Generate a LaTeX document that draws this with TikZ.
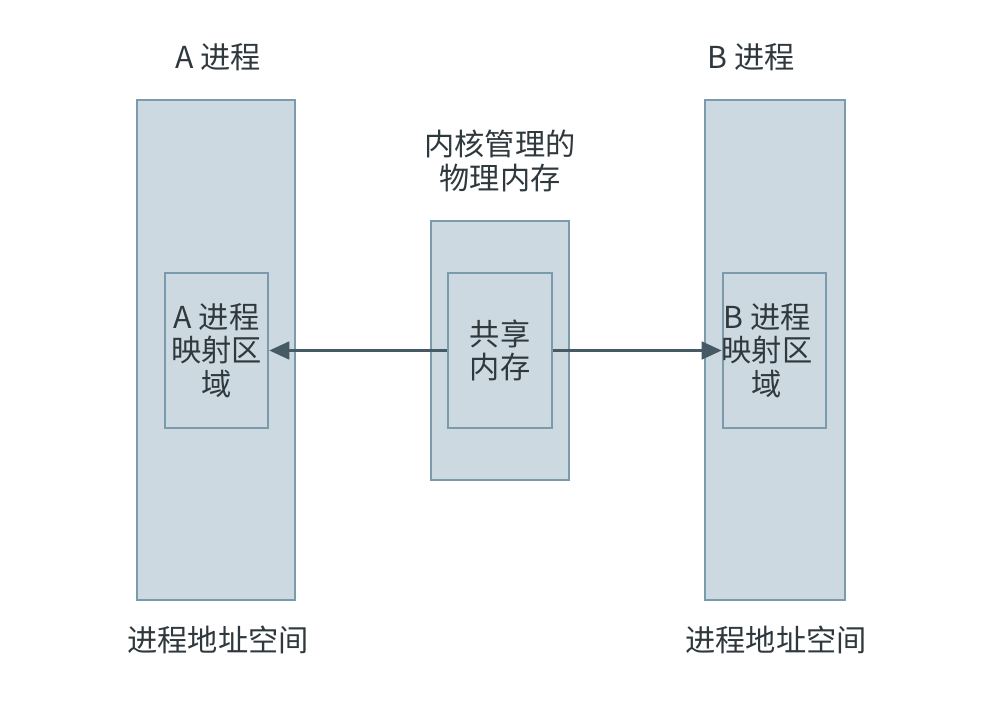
\documentclass[tikz,border=0pt]{standalone}
\usepackage{fontspec}
\setmainfont{Noto Sans CJK SC}
\usepackage{xcolor}
\usetikzlibrary{arrows.meta}
\definecolor{boxfill}{HTML}{CDD9E0}
\definecolor{boxline}{HTML}{7B9BAD}
\definecolor{linkcol}{HTML}{455A64}
\definecolor{txtcol}{HTML}{2F383D}

\begin{document}
\begin{tikzpicture}[x=0.025cm, y=-0.025cm, >={Triangle[length=5mm, width=4.4mm]},
    membox/.style={draw=boxline, fill=boxfill, line width=1.8pt, inner sep=0pt},
    lbl/.style={text=txtcol, font=\fontsize{21.5}{24}\selectfont, align=center, inner sep=0pt}]
  \useasboundingbox (0,0) rectangle (992,714);
  % A process
  \node[membox, minimum width=3.95cm, minimum height=12.5cm] (aspace) at (216,350) {};
  \node[membox, minimum width=2.575cm, minimum height=3.875cm] (amap) at (216.5,350.5) {};
  \node[lbl] (amaptxt) at (amap) {A\ 进程\\映射区\\域};
  \node[lbl] (atitle) at (218,57) {A\ 进程};
  \node[lbl] (aname) at (218,640) {进程地址空间};
  % B process
  \node[membox, minimum width=3.5cm, minimum height=12.5cm] (bspace) at (775,350) {};
  \node[membox, minimum width=2.575cm, minimum height=3.875cm] (bmap) at (774.5,350.5) {};
  \node[lbl] (bmaptxt) at (767,350.5) {B\ 进程\\映射区\\域};
  \node[lbl] (btitle) at (751,57) {B\ 进程};
  \node[lbl] (bname) at (776,640) {进程地址空间};
  % kernel memory
  \node[membox, minimum width=3.45cm, minimum height=6.475cm] (kmem) at (500,350.5) {};
  \node[membox, minimum width=2.6cm, minimum height=3.875cm] (shm) at (500,350.5) {};
  \node[lbl] (shmtxt) at (shm) {共享\\内存};
  \node[lbl] (ktitle) at (500,161) {内核管理的\\物理内存};
  % links
  \draw[->, linkcol, line width=2.1pt] (shm.west) -- (amap.east);
  \draw[->, linkcol, line width=2.1pt] (shm.east) -- (bmap.west);
\end{tikzpicture}
\end{document}
